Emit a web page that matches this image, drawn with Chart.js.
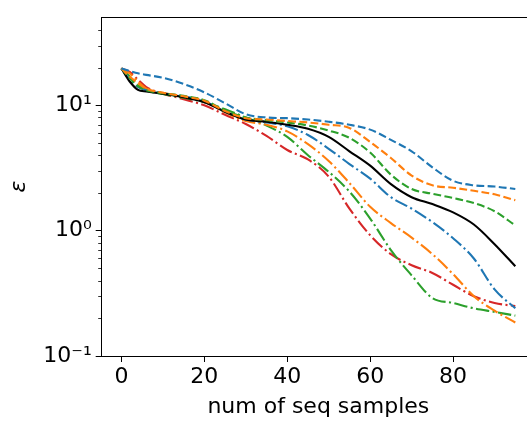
<!DOCTYPE html>
<html>
<head>
<meta charset="utf-8">
<script src="https://cdn.jsdelivr.net/npm/chart.js@4.4.1/dist/chart.umd.min.js"></script>
<style>
  html, body { margin: 0; padding: 0; background: #fff; overflow: hidden; }
  #wrap { width: 545px; height: 423px; }
</style>
</head>
<body>
<div id="wrap"><canvas id="chart" width="545" height="423"></canvas></div>
<script>
// x positions of the sampled points
const xs = [0, 2, 4, 6, 10, 15, 20, 25, 30, 35, 40, 45, 50, 55, 60, 65, 70, 75, 80, 85, 90, 95];

// series (epsilon values)
const blueDashed    = [19.7, 18.8, 18.0, 17.5, 16.6, 14.8, 12.7, 10.4, 8.5, 8.0, 7.9, 7.7, 7.4, 7.0, 6.4, 5.3, 4.3, 3.2, 2.5, 2.3, 2.25, 2.15];
const orangeDashed  = [19.7, 17.0, 15.0, 13.6, 12.6, 11.8, 10.9, 9.0, 7.9, 7.7, 7.5, 7.3, 7.0, 6.6, 5.1, 3.8, 2.75, 2.3, 2.2, 2.08, 1.95, 1.75];
const greenDashed   = [19.7, 16.5, 14.2, 13.2, 12.5, 11.9, 11.0, 9.1, 8.0, 7.6, 7.3, 6.9, 6.3, 5.5, 4.2, 2.8, 2.15, 1.97, 1.82, 1.66, 1.43, 1.1];
const blackSolid    = [19.7, 15.5, 13.3, 12.9, 12.4, 11.6, 10.6, 8.9, 7.7, 7.4, 7.0, 6.5, 5.6, 4.3, 3.3, 2.35, 1.85, 1.63, 1.4, 1.12, 0.78, 0.52];
const blueDashDot   = [19.7, 16.0, 14.0, 13.2, 12.5, 11.8, 10.8, 8.9, 7.7, 7.3, 6.8, 5.8, 4.5, 3.4, 2.6, 1.85, 1.5, 1.17, 0.87, 0.6, 0.34, 0.24];
const orangeDashDot = [19.7, 18.0, 15.5, 13.6, 12.6, 11.7, 10.7, 8.8, 7.5, 7.0, 6.2, 4.9, 3.6, 2.4, 1.55, 1.15, 0.88, 0.65, 0.45, 0.3, 0.23, 0.185];
const greenDashDot  = [19.7, 17.0, 14.5, 13.2, 12.3, 11.5, 10.6, 9.3, 8.0, 6.9, 5.6, 4.0, 2.95, 2.05, 1.25, 0.7, 0.44, 0.29, 0.265, 0.24, 0.225, 0.21];
const redDashDot    = [19.7, 18.5, 16.0, 14.0, 12.4, 11.2, 10.0, 8.4, 7.1, 5.7, 4.4, 3.7, 2.7, 1.5, 0.92, 0.65, 0.53, 0.46, 0.37, 0.3, 0.265, 0.25];

// axis ticks
const xTicks = [0, 20, 40, 60, 80];
const yMajor = [0.1, 1, 10];
const yMajorLabels = ["10\u207B\u00B9", "10\u2070", "10\u00B9"];
const yMinor = [0.2, 0.3, 0.4, 0.5, 0.6, 0.7, 0.8, 0.9, 2, 3, 4, 5, 6, 7, 8, 9, 20, 30, 40];

const FONT = "'DejaVu Sans', sans-serif";
const LW = 2.1;
const DASH = [7.8, 3.4];
const DASHDOT = [13.4, 3.4, 2.1, 3.4];

function series(data, color, dash) {
  return {
    data: data.map((v, i) => ({ x: xs[i], y: v })),
    borderColor: color,
    borderWidth: LW,
    borderDash: dash,
    pointRadius: 0,
    fill: false,
    cubicInterpolationMode: "monotone"
  };
}

const isMajor = v => yMajor.some(m => Math.abs(m - v) < 1e-9);

// minor ticks and top spine
const extras = {
  id: "extras",
  afterDraw(chart) {
    const ctx = chart.ctx;
    const y = chart.scales.y;
    const a = chart.chartArea;
    ctx.save();
    ctx.strokeStyle = "#000";
    ctx.lineWidth = 0.8;
    yMinor.forEach(v => {
      const p = Math.round(y.getPixelForValue(v)) + 0.5;
      ctx.beginPath();
      ctx.moveTo(a.left - 3.5, p);
      ctx.lineTo(a.left, p);
      ctx.stroke();
    });
    ctx.lineWidth = 1;
    ctx.beginPath();
    ctx.moveTo(a.left, Math.round(a.top) + 0.5);
    ctx.lineTo(a.right, Math.round(a.top) + 0.5);
    ctx.stroke();
    ctx.restore();
  }
};

new Chart(document.getElementById("chart"), {
  type: "line",
  data: {
    datasets: [
      series(blueDashed, "#1f77b4", DASH),
      series(orangeDashed, "#ff7f0e", DASH),
      series(greenDashed, "#2ca02c", DASH),
      series(blackSolid, "#000000", []),
      series(blueDashDot, "#1f77b4", DASHDOT),
      series(orangeDashDot, "#ff7f0e", DASHDOT),
      series(greenDashDot, "#2ca02c", DASHDOT),
      series(redDashDot, "#d62728", DASHDOT)
    ]
  },
  options: {
    responsive: false,
    animation: false,
    layout: { padding: { left: 0, top: 7, right: 10, bottom: 0 } },
    plugins: { legend: { display: false }, tooltip: { enabled: false } },
    scales: {
      x: {
        type: "linear",
        min: -4.75,
        max: 99.75,
        afterBuildTicks: s => { s.ticks = xTicks.map(v => ({ value: v })); },
        afterFit: s => { s.height = 67; },
        grid: { drawOnChartArea: false, tickLength: 6, tickColor: "#000", tickWidth: 1 },
        border: { display: true, color: "#000", width: 1 },
        ticks: { color: "#000", padding: 2, font: { family: FONT, size: 22 }, maxRotation: 0 },
        title: { display: true, text: "num of seq samples", color: "#000", font: { family: FONT, size: 22 }, padding: { top: 0, bottom: 3 } }
      },
      y: {
        type: "logarithmic",
        min: 0.1,
        max: 50.5,
        afterBuildTicks: s => { s.ticks = yMajor.concat(yMinor).sort((a, b) => a - b).map(v => ({ value: v })); },
        afterFit: s => { s.width = 101.7; },
        grid: {
          drawOnChartArea: false,
          tickLength: 6,
          tickWidth: 1,
          tickColor: c => (c.tick && isMajor(c.tick.value)) ? "#000" : "rgba(0,0,0,0)"
        },
        border: { display: true, color: "#000", width: 1 },
        ticks: {
          color: "#000",
          padding: 4,
          autoSkip: false,
          font: { family: FONT, size: 22 },
          callback: v => { const i = yMajor.findIndex(m => Math.abs(m - v) < 1e-9); return i >= 0 ? yMajorLabels[i] : ""; }
        },
        title: { display: true, text: "\u03B5", color: "#000", font: { family: FONT, size: 22, style: "italic" }, padding: { top: 6, bottom: 0 } }
      }
    }
  },
  plugins: [extras]
});
</script>
</body>
</html>
